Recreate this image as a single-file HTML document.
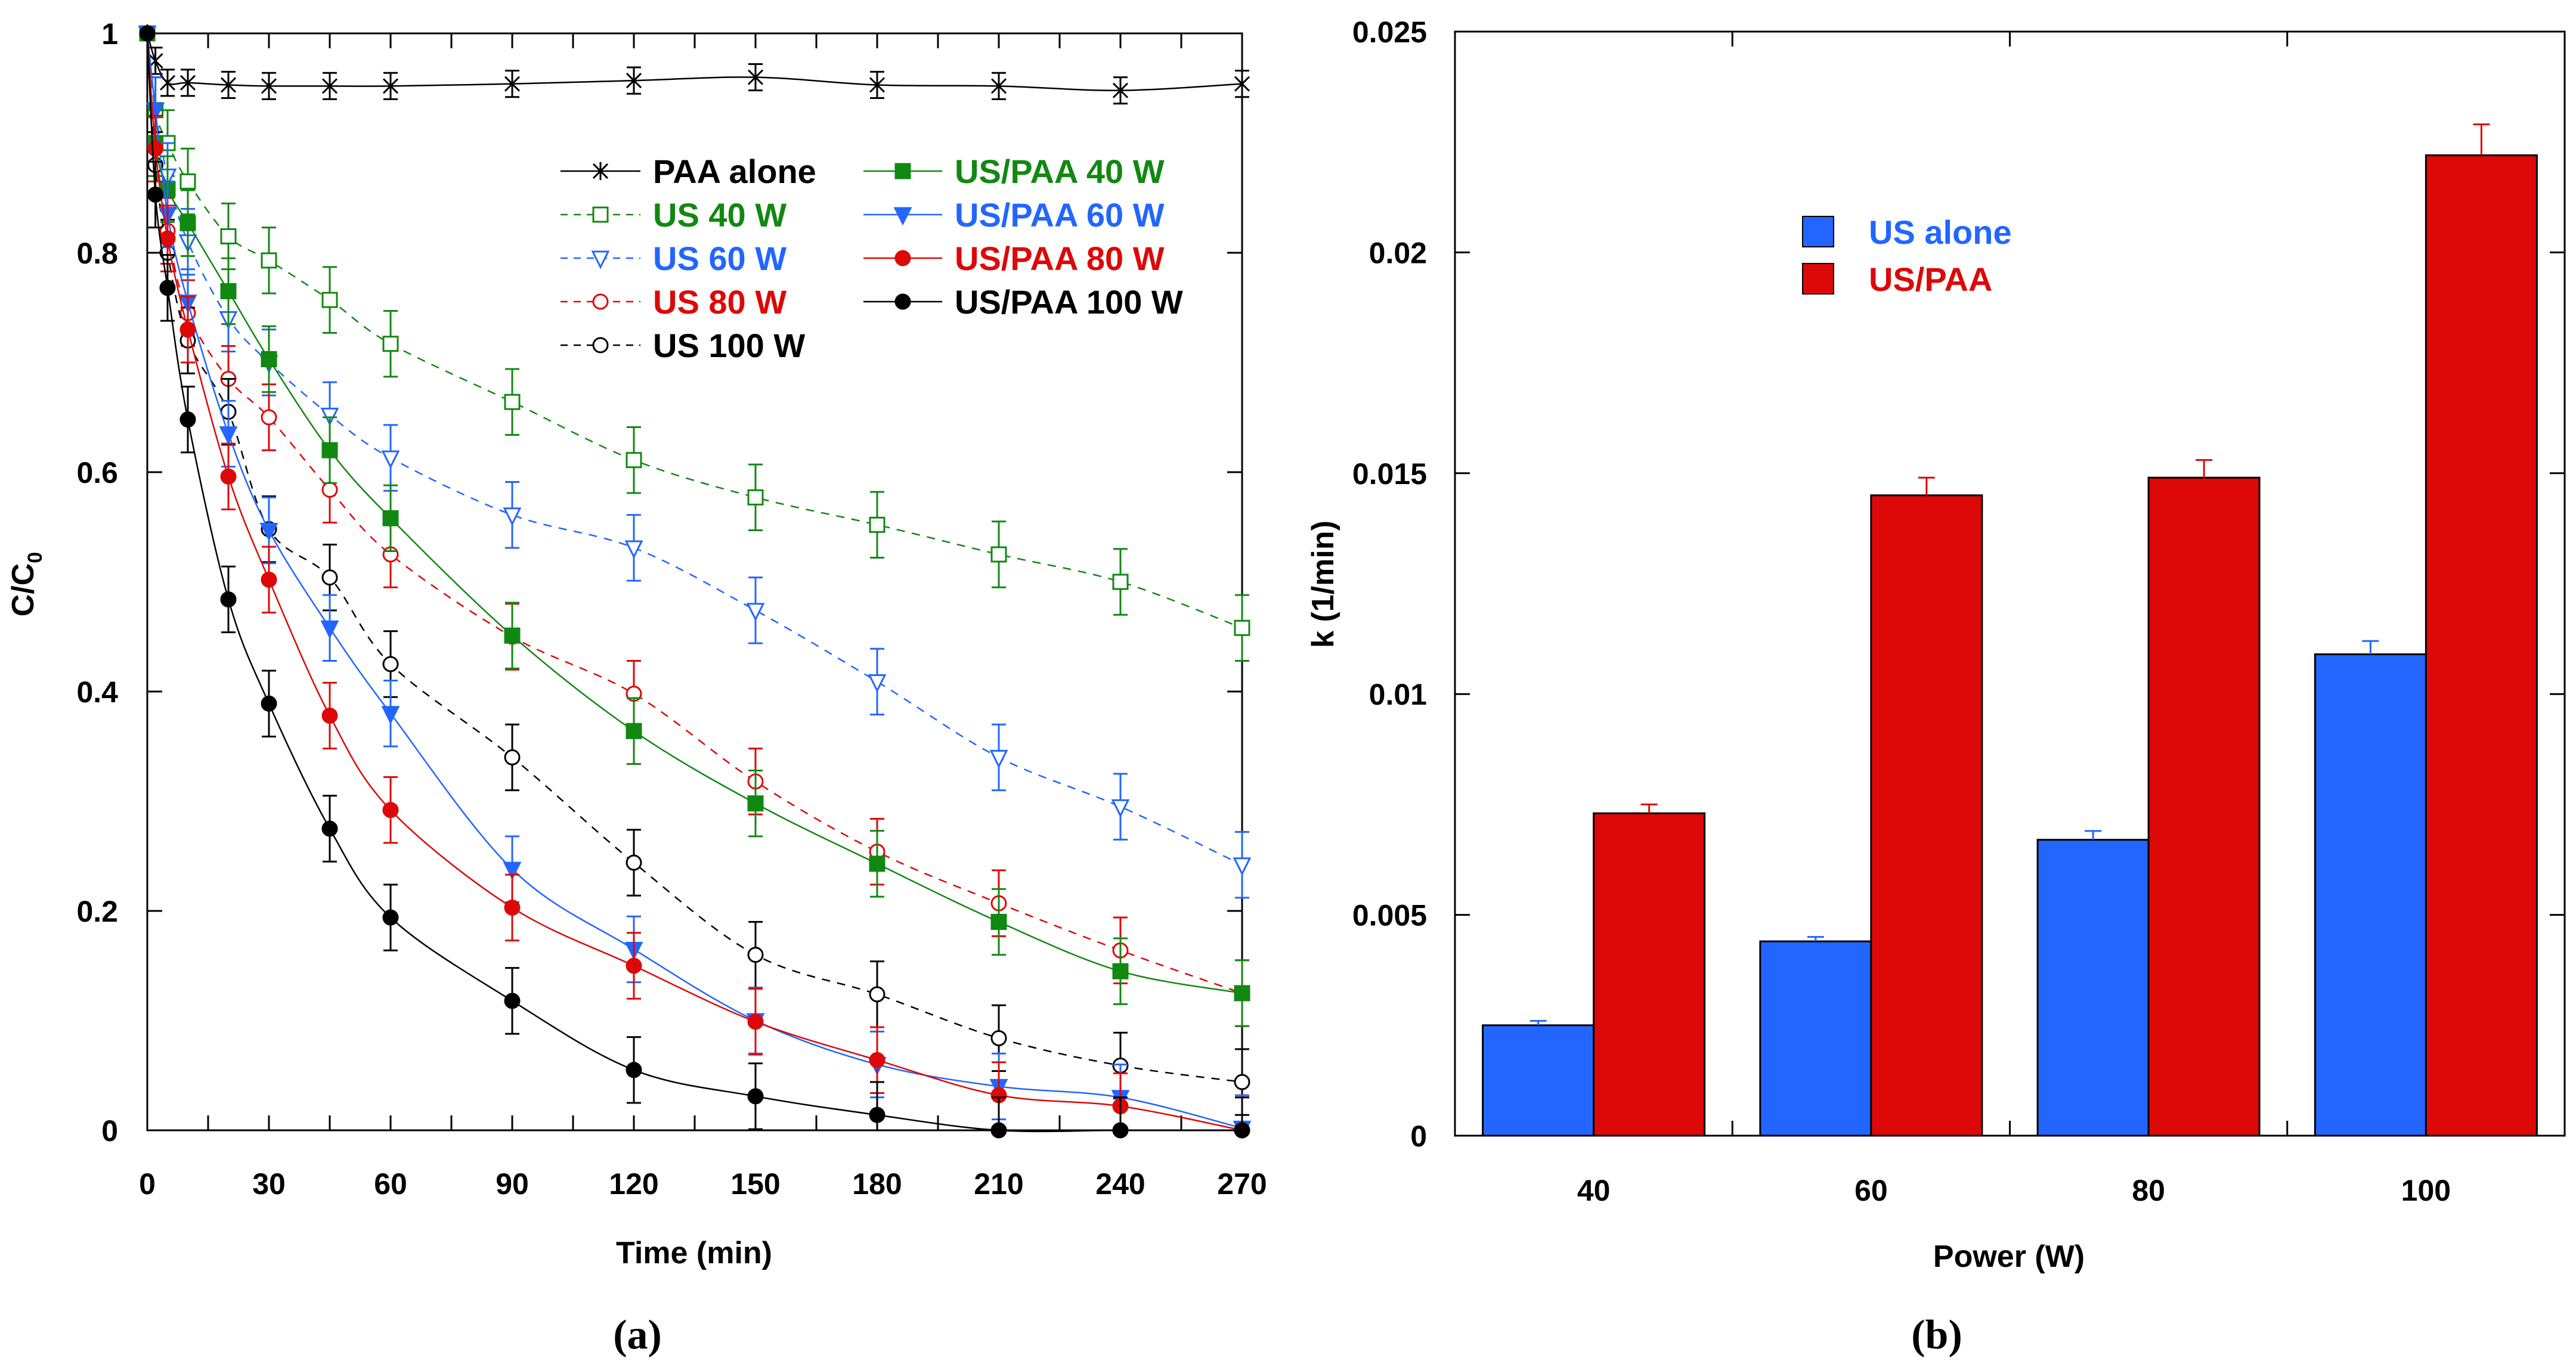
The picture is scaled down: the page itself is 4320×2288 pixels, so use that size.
<!DOCTYPE html>
<html><head><meta charset="utf-8"><style>
html,body{margin:0;padding:0;background:#fff;}
svg{display:block;font-family:"Liberation Sans",Arial,sans-serif;}
</style></head><body>
<svg id="fig" width="4320" height="2288" viewBox="0 0 4320 2288" xmlns="http://www.w3.org/2000/svg">
<g id="pa"></g>
<g id="pb"></g>
</svg>
<script>
// ---------- Panel (a) data ----------
const times = [0,2,5,10,20,30,45,60,90,120,150,180,210,240,270];
const paaAlone = [1,0.975,0.955,0.955,0.953,0.952,0.952,0.952,0.954,0.957,0.96,0.953,0.952,0.948,0.954];
const us40 = [1,0.93,0.9,0.865,0.815,0.793,0.757,0.717,0.664,0.611,0.577,0.552,0.525,0.5,0.458];
const us60 = [1,0.93,0.87,0.81,0.74,0.70,0.652,0.613,0.561,0.531,0.474,0.409,0.34,0.295,0.242];
const us80 = [1,0.9,0.82,0.745,0.685,0.65,0.584,0.525,0.45,0.398,0.318,0.254,0.207,0.164,0.125];
const us100 = [1,0.88,0.80,0.72,0.655,0.548,0.504,0.425,0.34,0.244,0.16,0.124,0.084,0.059,0.044];
const uspaa40 = [1,0.9,0.858,0.827,0.765,0.703,0.62,0.558,0.451,0.364,0.298,0.243,0.19,0.145,0.125];
const uspaa60 = [1,0.93,0.835,0.755,0.635,0.547,0.458,0.38,0.238,0.165,0.1,0.06,0.04,0.03,0.002];
const uspaa80 = [1,0.895,0.813,0.73,0.596,0.502,0.378,0.292,0.203,0.15,0.099,0.064,0.032,0.022,0];
const uspaa100 = [1,0.853,0.768,0.648,0.484,0.389,0.275,0.194,0.118,0.055,0.031,0.014,0,0,0];
const errPAA = 0.012;
const errUS = 0.03;
const errUSPAA = 0.03;
const xTicksA = [0,30,60,90,120,150,180,210,240,270];
const yTicksA = [0,0.2,0.4,0.6,0.8,1];
const yTickLabelsA = ["0","0.2","0.4","0.6","0.8","1"];

// ---------- Panel (b) data ----------
const powers = ["40","60","80","100"];
const kUS = [0.0025,0.0044,0.0067,0.0109];
const kUSerr = [0.0001,0.0001,0.0002,0.0003];
const kUSPAA = [0.0073,0.0145,0.0149,0.0222];
const kUSPAAerr = [0.0002,0.0004,0.0004,0.0007];
const yTicksB = [0,0.005,0.01,0.015,0.02,0.025];
const yTickLabelsB = ["0","0.005","0.01","0.015","0.02","0.025"];

const NS="http://www.w3.org/2000/svg";
function mk(parent,tag,attrs,text){const e=document.createElementNS(NS,tag);for(const k in attrs)e.setAttribute(k,attrs[k]);if(text!==undefined)e.textContent=text;parent.appendChild(e);return e;}

const BLUE="#2266ff", RED="#dd0808", GREEN="#118811", BLACK="#000";

// ---------- Panel A ----------
const pa=document.getElementById('pa');
const AL=247, AR=2083, AT=56, AB=1896;
const ax=t=>AL+(t/270)*(AR-AL);
const ay=v=>AB-v*(AB-AT);

let fr=mk(pa,'rect',{x:AL,y:AT,width:AR-AL,height:AB-AT,fill:'none',stroke:'#000','stroke-width':3});


for(let t=0;t<=270;t+=15){
  mk(pa,'line',{x1:ax(t),x2:ax(t),y1:AB,y2:AB-25,stroke:'#000','stroke-width':3});
  mk(pa,'line',{x1:ax(t),x2:ax(t),y1:AT,y2:AT+25,stroke:'#000','stroke-width':3});
}
xTicksA.forEach(t=>{
  const e=mk(pa,'text',{x:ax(t),y:2003,'text-anchor':'middle','font-size':50,'font-weight':'bold'},String(t));
  
  
});
yTicksA.forEach((v,i)=>{
  mk(pa,'line',{x1:AL,x2:AL+25,y1:ay(v),y2:ay(v),stroke:'#000','stroke-width':3});
  mk(pa,'line',{x1:AR,x2:AR-25,y1:ay(v),y2:ay(v),stroke:'#000','stroke-width':3});
  const e=mk(pa,'text',{x:198,y:ay(v)+18,'text-anchor':'end','font-size':50,'font-weight':'bold'},yTickLabelsA[i]);
  
  
});
let xt=mk(pa,'text',{x:1164,y:2119,'text-anchor':'middle','font-size':52,'font-weight':'bold'},'Time (min)');


let yt=mk(pa,'text',{transform:'translate(56,980) rotate(-90)','text-anchor':'middle','font-size':52,'font-weight':'bold'});


mk(yt,'tspan',{},'C/C');
mk(yt,'tspan',{'font-size':34,dy:14},'0');
let la=mk(pa,'text',{x:1069,y:2262,'text-anchor':'middle','font-size':70,'font-weight':'600','font-family':'"Liberation Serif",serif'},'(a)');



function smoothPath(pts){
  let d='M'+pts[0][0]+','+pts[0][1];
  for(let i=0;i<pts.length-1;i++){
    const p0=pts[Math.max(0,i-1)],p1=pts[i],p2=pts[i+1],p3=pts[Math.min(pts.length-1,i+2)];
    const c1=[p1[0]+(p2[0]-p0[0])/6,p1[1]+(p2[1]-p0[1])/6];
    const c2=[p2[0]-(p3[0]-p1[0])/6,p2[1]-(p3[1]-p1[1])/6];
    d+=` C${c1[0]},${c1[1]} ${c2[0]},${c2[1]} ${p2[0]},${p2[1]}`;
  }
  return d;
}
function marker(g,type,x,y,color){
  const s=12;
  const sw=3;
  if(type==='x'){
    mk(g,'path',{d:`M${x-s},${y-s}L${x+s},${y+s}M${x-s},${y+s}L${x+s},${y-s}M${x},${y-s-3}L${x},${y+s+3}`,stroke:color,'stroke-width':sw,fill:'none'});
  }else if(type==='sq'||type==='sqo'){
    mk(g,'rect',{x:x-s,y:y-s,width:2*s,height:2*s,fill:type==='sq'?color:'#fff',stroke:color,'stroke-width':sw});
  }else if(type==='tri'||type==='trio'){
    mk(g,'path',{d:`M${x-s-1},${y-s+1}L${x+s+1},${y-s+1}L${x},${y+s+3}Z`,fill:type==='tri'?color:'#fff',stroke:color,'stroke-width':sw});
  }else if(type==='ci'||type==='cio'){
    mk(g,'circle',{cx:x,cy:y,r:s,fill:type==='ci'?color:'#fff',stroke:color,'stroke-width':sw});
  }
}
const seriesA=[
  {name:'series-us-40w',vals:us40,err:errUS,color:GREEN,dash:true,m:'sqo'},
  {name:'series-us-60w',vals:us60,err:errUS,color:BLUE,dash:true,m:'trio'},
  {name:'series-us-80w',vals:us80,err:errUS,color:RED,dash:true,m:'cio'},
  {name:'series-us-100w',vals:us100,err:errUS,color:BLACK,dash:true,m:'cio'},
  {name:'series-paa-alone',vals:paaAlone,err:errPAA,color:BLACK,dash:false,m:'x'},
  {name:'series-us-paa-40w',vals:uspaa40,err:errUSPAA,color:GREEN,dash:false,m:'sq'},
  {name:'series-us-paa-60w',vals:uspaa60,err:errUSPAA,color:BLUE,dash:false,m:'tri'},
  {name:'series-us-paa-80w',vals:uspaa80,err:errUSPAA,color:RED,dash:false,m:'ci'},
  {name:'series-us-paa-100w',vals:uspaa100,err:errUSPAA,color:BLACK,dash:false,m:'ci'}
];
seriesA.forEach(s=>{
  const g=mk(pa,'g',{});
  
  
  const pts=times.map((t,i)=>[ax(t),ay(s.vals[i])]);
  const attrs={d:smoothPath(pts),fill:'none',stroke:s.color,'stroke-width':2.5};
  if(s.dash)attrs['stroke-dasharray']='14,12';
  mk(g,'path',attrs);
  times.forEach((t,i)=>{
    if(i===0)return;
    const x=ax(t),v=s.vals[i];
    const y1=ay(Math.min(1,v+s.err)),y2=ay(Math.max(0,v-s.err));
    mk(g,'path',{d:`M${x},${y1}L${x},${y2}M${x-12},${y1}L${x+12},${y1}M${x-12},${y2}L${x+12},${y2}`,stroke:s.color,'stroke-width':3,fill:'none'});
  });
  times.forEach((t,i)=>{marker(g,s.m,ax(t),ay(s.vals[i]),s.color);});
});
// legend a
const legA=[
  {c:0,r:0,label:'PAA alone',color:BLACK,tc:BLACK,dash:false,m:'x'},
  {c:0,r:1,label:'US 40 W',color:GREEN,tc:GREEN,dash:true,m:'sqo'},
  {c:0,r:2,label:'US 60 W',color:BLUE,tc:BLUE,dash:true,m:'trio'},
  {c:0,r:3,label:'US 80 W',color:RED,tc:RED,dash:true,m:'cio'},
  {c:0,r:4,label:'US 100 W',color:BLACK,tc:BLACK,dash:true,m:'cio'},
  {c:1,r:0,label:'US/PAA 40 W',color:GREEN,tc:GREEN,dash:false,m:'sq'},
  {c:1,r:1,label:'US/PAA 60 W',color:BLUE,tc:BLUE,dash:false,m:'tri'},
  {c:1,r:2,label:'US/PAA 80 W',color:RED,tc:RED,dash:false,m:'ci'},
  {c:1,r:3,label:'US/PAA 100 W',color:BLACK,tc:BLACK,dash:false,m:'ci'}
];
const legGA=mk(pa,'g',{});


legA.forEach(l=>{
  const g=mk(legGA,'g',{});
  
  
  const x0=l.c?1448:940, x1=l.c?1580:1074, tx=l.c?1601:1095;
  const y=287+l.r*73;
  const at={x1:x0,x2:x1,y1:y,y2:y,stroke:l.color,'stroke-width':2.5};
  if(l.dash)at['stroke-dasharray']='12,10';
  mk(g,'line',at);
  marker(g,l.m,(x0+x1)/2,y,l.color);
  mk(g,'text',{x:tx,y:y+20,'font-size':56,'font-weight':'bold',fill:l.tc},l.label);
});

// ---------- Panel B ----------
const pb=document.getElementById('pb');
const BL=2440, BR=4301, BT=53, BB=1905;
const bw=(BR-BL)/4;
const bx=i=>BL+bw*(i+0.5);
const by=v=>BB-(v/0.025)*(BB-BT);
const barW=186;
yTicksB.forEach((v,i)=>{
  mk(pb,'line',{x1:BL,x2:BL+25,y1:by(v),y2:by(v),stroke:'#000','stroke-width':3});
  mk(pb,'line',{x1:BR,x2:BR-25,y1:by(v),y2:by(v),stroke:'#000','stroke-width':3});
  const e=mk(pb,'text',{x:2393,y:by(v)+18,'text-anchor':'end','font-size':50,'font-weight':'bold'},yTickLabelsB[i]);
  
  
});
for(let i=1;i<4;i++){
  const x=BL+bw*i;
  mk(pb,'line',{x1:x,x2:x,y1:BB,y2:BB-25,stroke:'#000','stroke-width':3});
  mk(pb,'line',{x1:x,x2:x,y1:BT,y2:BT+25,stroke:'#000','stroke-width':3});
}
function bar(i,v,err,color,left,name){
  const x=left?bx(i)-barW:bx(i);
  const r=mk(pb,'rect',{x:x,y:by(v),width:barW,height:BB-by(v),fill:color,stroke:'#000','stroke-width':3});
  
  
  const cx=x+barW/2, ye=by(v+err);
  mk(pb,'path',{d:`M${cx},${by(v)}L${cx},${ye}M${cx-14},${ye}L${cx+14},${ye}`,stroke:color,'stroke-width':3,fill:'none'});
}
powers.forEach((p,i)=>{
  bar(i,kUS[i],kUSerr[i],BLUE,true,'bar-us-alone-'+p);
  bar(i,kUSPAA[i],kUSPAAerr[i],RED,false,'bar-us-paa-'+p);
  const e=mk(pb,'text',{x:bx(i),y:2014,'text-anchor':'middle','font-size':50,'font-weight':'bold'},p);
  
  
});
let frb=mk(pb,'rect',{x:BL,y:BT,width:BR-BL,height:BB-BT,fill:'none',stroke:'#000','stroke-width':3});


let xtb=mk(pb,'text',{x:3369,y:2125,'text-anchor':'middle','font-size':52,'font-weight':'bold'},'Power (W)');


let ytb=mk(pb,'text',{transform:'translate(2236,980) rotate(-90)','text-anchor':'middle','font-size':52,'font-weight':'bold'},'k (1/min)');


let lb=mk(pb,'text',{x:3248,y:2262,'text-anchor':'middle','font-size':70,'font-weight':'600','font-family':'"Liberation Serif",serif'},'(b)');


const legGB=mk(pb,'g',{});


[[BLUE,'US alone',363],[RED,'US/PAA',442]].forEach(([c,t,y])=>{
  const g=mk(legGB,'g',{});
  
  
  mk(g,'rect',{x:3023,y:y,width:52,height:51,fill:c,stroke:'#000','stroke-width':2});
  mk(g,'text',{x:3134,y:y+46,'font-size':56,'font-weight':'bold',fill:c},t);
});
</script>
</body></html>
